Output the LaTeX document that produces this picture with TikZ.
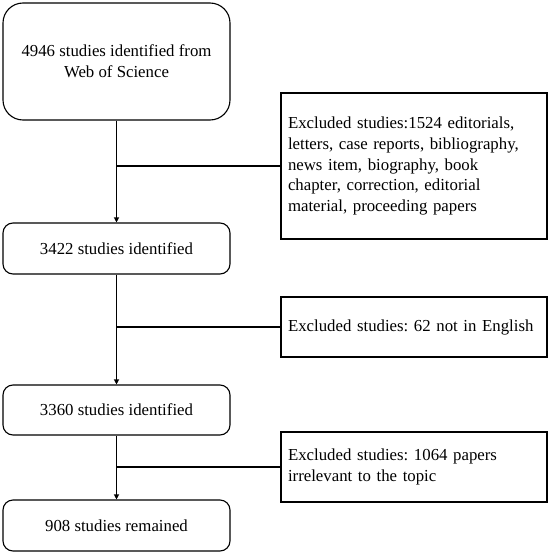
\documentclass[tikz,border=0pt]{standalone}
\usepackage{fontspec}
\setmainfont{Liberation Serif}
\usetikzlibrary{arrows.meta}
\begin{document}
\frenchspacing
\begin{tikzpicture}[x=1pt,y=-1pt,
  every node/.style={font=\fontsize{16.8}{20.7}\selectfont},
  mainbox/.style={draw, line width=1.1pt, rounded corners=10pt, minimum width=227pt, inner sep=0pt, align=center},
  exclbox/.style={draw, line width=1.1pt, minimum width=266pt, text width=252pt, inner xsep=7pt, inner ysep=0pt, align=left},
  conn/.style={line width=1.1pt},
  arr/.style={conn, -{Triangle[length=5pt,width=5pt]}}]
\useasboundingbox (0,0) rectangle (551,554);
\node[mainbox, rounded corners=20pt, minimum height=117pt] (b1) at (116.5,61.5) {4946 studies identified from\\Web of Science};
\node[mainbox, minimum height=51pt] (b2) at (116.5,248.5) {3422 studies identified};
\node[mainbox, minimum height=50pt] (b3) at (116.5,410) {3360 studies identified};
\node[mainbox, minimum height=51pt] (b4) at (116.5,525.5) {908 studies remained};
\node[exclbox, minimum height=146pt] (e1) at (414,166) {Excluded studies:1524 editorials,\\letters, case reports, bibliography,\\news item, biography, book\\chapter, correction, editorial\\material, proceeding papers};
\node[exclbox, minimum height=60pt] (e2) at (414,327) {Excluded studies: 62 not in English};
\node[exclbox, minimum height=70pt] (e3) at (414,467) {Excluded studies: 1064 papers\\irrelevant to the topic};
\draw[arr] (b1) -- (b2);
\draw[arr] (b2) -- (b3);
\draw[arr] (b3) -- (b4);
\draw[conn] (b1.south |- e1.west) -- (e1.west);
\draw[conn] (b2.south |- e2.west) -- (e2.west);
\draw[conn] (b3.south |- e3.west) -- (e3.west);
\end{tikzpicture}
\end{document}
